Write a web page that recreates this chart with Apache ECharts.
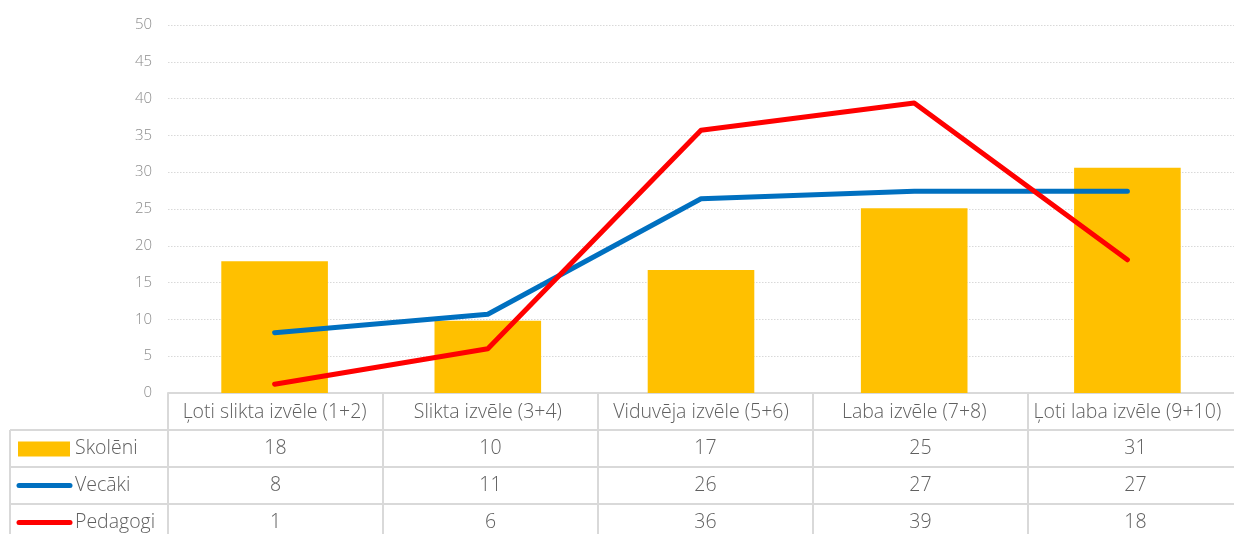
<!DOCTYPE html>
<html>
<head>
<meta charset="utf-8">
<style>
  html, body { margin: 0; padding: 0; background: #fff; }
  #chart { width: 1234px; height: 534px; }
</style>
<script src="https://cdn.jsdelivr.net/npm/echarts@6/dist/echarts.min.js"></script>
</head>
<body>
<div id="chart"></div>
<script>
// categories and values (plotted values, table shows rounded ones)
const categories = ['Ļoti slikta izvēle (1+2)', 'Slikta izvēle (3+4)', 'Viduvēja izvēle (5+6)', 'Laba izvēle (7+8)', 'Ļoti laba izvēle (9+10)']
const skoleni = [17.9, 9.8, 16.7, 25.1, 30.6]
const vecaki = [8.2, 10.7, 26.4, 27.4, 27.4]
const pedagogi = [1.2, 6.0, 35.7, 39.4, 18.1]
const seriesNames = ['Skolēni', 'Vecāki', 'Pedagogi']
const yMin = 0
const yMax = 50
const yStep = 5

const colors = ['#ffc000', '#0070c0', '#ff0000']
const textColor = '#606060'
const axisTextColor = '#8c8c8c'
const borderColor = '#d9d9d9'
const fontFamily = '"Open Sans", "Noto Sans", sans-serif'
const tableFontSize = 19.5
const tableFont = '300 ' + tableFontSize + 'px ' + fontFamily

// the plot area runs a little past the right edge of the window, as in the source
const gridLeft = 168
const gridRight = -9
const gridTop = 25
const gridBottom = 141
const rowHeight = 37
const tableLeft = 10

const chart = echarts.init(document.getElementById('chart'))
const W = chart.getWidth()
const H = chart.getHeight()
const axisY = H - gridBottom
const cellW = (W - gridLeft - gridRight) / categories.length
const tableRight = W - gridRight

const buildTable = () => {
  const els = []
  const line = (x1, y1, x2, y2) => els.push({
    type: 'line',
    shape: { x1, y1, x2, y2 },
    style: { stroke: borderColor, lineWidth: 2 },
    silent: true
  })
  // horizontal borders
  for (let r = 1; r <= 3; r++) line(tableLeft, axisY + r * rowHeight, tableRight, axisY + r * rowHeight)
  // vertical borders
  line(tableLeft, axisY + rowHeight, tableLeft, H)
  for (let c = 0; c <= categories.length; c++) {
    const x = gridLeft + c * cellW
    line(x, axisY, x, H)
  }
  const rows = [skoleni, vecaki, pedagogi]
  rows.forEach((values, r) => {
    const cy = axisY + (r + 1) * rowHeight + rowHeight / 2
    // legend key
    if (r === 0) {
      els.push({ type: 'rect', shape: { x: 18, y: cy - 7, width: 52, height: 15 }, style: { fill: colors[0] }, silent: true })
    } else {
      els.push({
        type: 'line',
        shape: { x1: 19, y1: cy, x2: 70, y2: cy },
        style: { stroke: colors[r], lineWidth: 5, lineCap: 'round' },
        silent: true
      })
    }
    els.push({
      type: 'text',
      style: { x: 75, y: cy, text: seriesNames[r], fill: textColor, font: tableFont, verticalAlign: 'middle' },
      silent: true
    })
    values.forEach((v, i) => {
      els.push({
        type: 'text',
        style: {
          x: gridLeft + (i + 0.5) * cellW,
          y: cy,
          text: String(Math.round(v)),
          fill: textColor,
          font: tableFont,
          align: 'center',
          verticalAlign: 'middle'
        },
        silent: true
      })
    })
  })
  return els
}

chart.setOption({
  animation: false,
  color: colors,
  grid: { left: gridLeft, right: gridRight, top: gridTop, bottom: gridBottom, containLabel: false },
  xAxis: {
    type: 'category',
    data: categories,
    boundaryGap: true,
    axisLine: { lineStyle: { color: borderColor, width: 2 } },
    axisTick: { show: false },
    axisLabel: {
      color: textColor,
      fontSize: tableFontSize,
      fontWeight: 300,
      fontFamily,
      margin: 19,
      verticalAlign: 'middle',
      interval: 0
    }
  },
  yAxis: {
    type: 'value',
    min: yMin,
    max: yMax,
    interval: yStep,
    axisLine: { show: false },
    axisTick: { show: false },
    axisLabel: { color: axisTextColor, fontSize: 15, fontWeight: 300, fontFamily, margin: 16 },
    splitLine: { lineStyle: { color: borderColor, type: [1.5, 1.5], width: 1 } }
  },
  series: [
    {
      name: seriesNames[0],
      type: 'bar',
      barWidth: '50%',
      itemStyle: { color: colors[0] },
      data: skoleni
    },
    {
      name: seriesNames[1],
      type: 'line',
      symbol: 'none',
      lineStyle: { color: colors[1], width: 5, cap: 'round', join: 'round' },
      data: vecaki
    },
    {
      name: seriesNames[2],
      type: 'line',
      symbol: 'none',
      lineStyle: { color: colors[2], width: 5, cap: 'round', join: 'round' },
      data: pedagogi
    }
  ],
  graphic: buildTable()
})
</script>
</body>
</html>
